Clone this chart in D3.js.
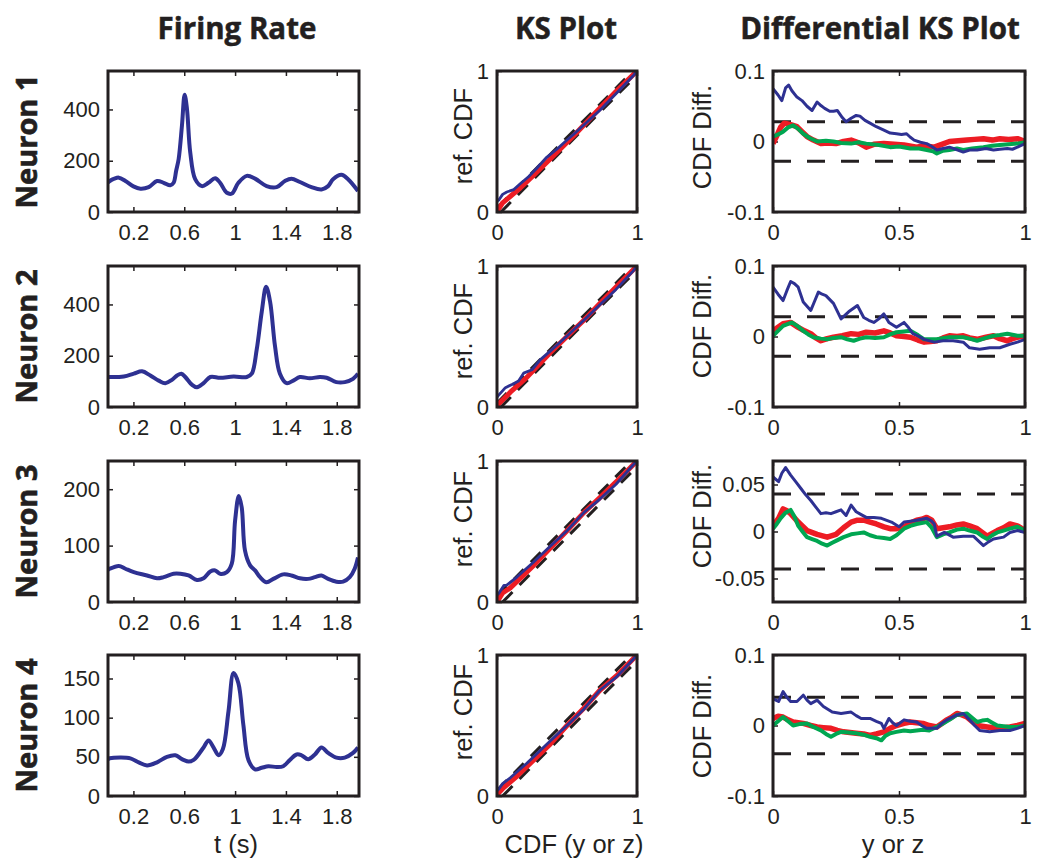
<!DOCTYPE html>
<html>
<head>
<meta charset="utf-8">
<script src="https://cdn.jsdelivr.net/npm/d3@7"></script>
<style>
  html, body { margin: 0; padding: 0; background: #fff; }
  svg { display: block; }
</style>
</head>
<body>
<script>
// ---------------- DATA ----------------
const columnTitles = ["Firing Rate", "KS Plot", "Differential KS Plot"];
const neuronLabels = ["Neuron 1", "Neuron 2", "Neuron 3", "Neuron 4"];
const rateXLabel = "t (s)";
const ksXLabel = "CDF (y or z)";
const ksYLabel = "ref. CDF";
const diffXLabel = "y or z";
const diffYLabel = "CDF Diff.";

const rateXTicks = [0.2, 0.6, 1, 1.4, 1.8];
const rateXMax = 1.975;
const rateYMax = [550, 550, 250, 180];
const rateYTicks = [[0, 200, 400], [0, 200, 400], [0, 100, 200], [0, 50, 100, 150]];
const ksTicks = [0, 1];
const diffXTicks = [0, 0.5, 1];
const diffYLim = [0.1, 0.1, 0.075, 0.1];
const diffYTicks = [[-0.1, 0, 0.1], [-0.1, 0, 0.1], [-0.05, 0, 0.05], [-0.1, 0, 0.1]];
const ksBound = [0.028, 0.028, 0.04, 0.04];

// firing rate [t (s), rate]
const rate1 = [[0,115],[.014,121],[.05,130],[.085,134],[.137,121],[.2,100],[.255,91],[.32,97],[.386,121],[.438,114],[.49,104],[.516,114],[.536,160],[.556,207],[.582,338],[.603,457],[.621,404],[.647,233],[.686,128],[.739,101],[.79,114],[.843,132],[.882,114],[.935,75],[.975,72],[1.026,114],[1.092,141],[1.157,130],[1.248,101],[1.327,97],[1.392,121],[1.444,130],[1.51,117],[1.601,97],[1.68,88],[1.732,101],[1.771,128],[1.837,145],[1.889,128],[1.967,82]];
const rate2 = [[0,117],[.124,119],[.203,130],[.268,139],[.333,123],[.399,103],[.451,93],[.503,106],[.543,123],[.577,130],[.608,117],[.66,87],[.7,77],[.752,93],[.805,117],[.883,114],[.988,119],[1.092,117],[1.131,130],[1.17,224],[1.21,372],[1.244,469],[1.275,412],[1.314,238],[1.353,130],[1.405,93],[1.458,103],[1.51,117],[1.588,112],[1.667,117],[1.72,114],[1.797,97],[1.863,97],[1.928,110],[1.967,130]];
const rate3 = [[0,57],[.014,59],[.085,64],[.137,59],[.203,53],[.307,47],[.386,42],[.438,44],[.516,50],[.569,50],[.634,47],[.7,39],[.752,42],[.805,54],[.843,56],[.882,50],[.935,53],[.974,68],[1.0,144],[1.029,188],[1.052,168],[1.078,91],[1.118,65],[1.157,56],[1.196,44],[1.248,35],[1.301,41],[1.379,49],[1.444,47],[1.51,42],[1.575,41],[1.628,44],[1.68,47],[1.732,41],[1.797,36],[1.85,36],[1.902,44],[1.941,59],[1.967,79]];
const rate4 = [[0,47],[.014,48],[.098,49],[.176,48],[.242,43],[.307,39],[.386,43],[.464,50],[.53,52],[.582,47],[.634,44],[.674,46],[.752,62],[.791,71],[.83,62],[.87,52],[.904,60],[.948,108],[.988,157],[1.026,144],[1.065,91],[1.105,46],[1.157,34],[1.209,36],[1.262,38],[1.327,37],[1.379,38],[1.431,46],[1.484,53],[1.523,52],[1.575,47],[1.628,53],[1.68,62],[1.732,55],[1.797,49],[1.863,49],[1.928,55],[1.967,62]];

// KS plots [CDF, ref. CDF]
const ksBlue1 = [[0,0.078],[0.012,0.083],[0.04,0.125],[0.07,0.142],[0.12,0.159],[0.166,0.2],[0.225,0.25],[0.284,0.31],[0.355,0.388],[0.427,0.445],[0.498,0.509],[0.56,0.562],[0.616,0.614],[0.735,0.722],[0.853,0.842],[0.976,0.97],[1,1]];
const ksRed1 = [[0,0],[0.005,0.012],[0.04,0.065],[0.07,0.09],[0.166,0.17],[0.26,0.26],[0.4,0.395],[0.55,0.542],[0.7,0.7],[0.85,0.854],[1,1]];
const ksBlue2 = [[0,0.07],[0.012,0.084],[0.06,0.137],[0.107,0.16],[0.154,0.185],[0.19,0.24],[0.25,0.264],[0.31,0.336],[0.38,0.396],[0.5,0.504],[0.62,0.615],[0.735,0.726],[0.85,0.834],[0.97,0.962],[1,1]];
const ksRed2 = [[0,0.005],[0.007,0.017],[0.095,0.105],[0.213,0.21],[0.38,0.385],[0.5,0.5],[0.62,0.615],[0.735,0.734],[0.87,0.87],[1,1]];
const ksBlue3 = [[0,0.05],[0.012,0.06],[0.05,0.118],[0.07,0.12],[0.14,0.175],[0.26,0.282],[0.38,0.395],[0.5,0.505],[0.62,0.634],[0.735,0.73],[0.85,0.835],[0.97,0.97],[1,1]];
const ksRed3 = [[0,0.003],[0.007,0.012],[0.04,0.064],[0.095,0.1],[0.26,0.258],[0.5,0.505],[0.62,0.634],[0.735,0.74],[0.87,0.87],[1,1]];
const ksBlue4 = [[0,0.038],[0.012,0.048],[0.04,0.088],[0.095,0.129],[0.213,0.232],[0.38,0.39],[0.5,0.5],[0.62,0.616],[0.735,0.75],[0.85,0.841],[0.97,0.966],[1,1]];
const ksRed4 = [[0,0.01],[0.04,0.052],[0.14,0.138],[0.38,0.368],[0.5,0.5],[0.62,0.622],[0.735,0.75],[0.855,0.853],[1,1]];

// Differential KS plots [y or z, CDF diff]
const diffBlue1 = [[0,.075],[.02,.066],[.035,.058],[.05,.076],[.062,.08],[.075,.072],[.095,.063],[.115,.058],[.135,.05],[.155,.044],[.175,.056],[.19,.051],[.205,.047],[.225,.043],[.24,.043],[.255,.044],[.275,.034],[.29,.028],[.31,.033],[.33,.037],[.345,.036],[.365,.03],[.385,.026],[.41,.021],[.44,.016],[.465,.012],[.49,.011],[.51,.01],[.53,.011],[.545,.006],[.56,.002],[.585,-.001],[.61,-.003],[.63,-.007],[.65,-.012],[.675,-.01],[.70,-.008],[.725,-.011],[.755,-.015],[.78,-.012],[.81,-.012],[.845,-.01],[.875,-.012],[.9,-.011],[.93,-.01],[.95,-.011],[.97,-.008],[1,-.003]];
const diffRed1 = [[0,-.003],[.015,.008],[.03,.02],[.045,.026],[.07,.024],[.095,.021],[.115,.014],[.135,.007],[.16,.002],[.19,-.003],[.22,-.002],[.25,-.003],[.28,0],[.31,.002],[.34,-.002],[.37,-.008],[.4,-.004],[.44,-.003],[.48,-.004],[.52,-.005],[.57,-.008],[.6,-.006],[.64,-.008],[.67,-.004],[.70,0],[.735,.001],[.77,.002],[.8,.003],[.835,.004],[.87,.002],[.9,.004],[.935,.003],[.97,.004],[1,0]];
const diffGreen1 = [[0,.007],[.02,.01],[.04,.014],[.06,.02],[.08,.023],[.1,.018],[.12,.011],[.145,.005],[.175,0],[.21,.001],[.24,0],[.27,-.002],[.31,-.003],[.34,-.001],[.37,-.003],[.42,-.005],[.465,-.008],[.5,-.007],[.545,-.01],[.58,-.01],[.61,-.012],[.635,-.014],[.65,-.017],[.675,-.013],[.70,-.012],[.73,-.01],[.755,-.012],[.79,-.01],[.835,-.008],[.87,-.006],[.9,-.005],[.935,-.004],[.97,-.003],[1,-.001]];

const diffBlue2 = [[0,.07],[.02,.06],[.04,.051],[.055,.065],[.07,.078],[.085,.075],[.1,.07],[.12,.049],[.15,.037],[.165,.05],[.18,.063],[.195,.06],[.21,.058],[.24,.047],[.27,.025],[.285,.03],[.3,.035],[.335,.044],[.36,.027],[.38,.023],[.4,.02],[.42,.025],[.44,.032],[.46,.02],[.49,.013],[.52,.02],[.535,.014],[.555,.004],[.58,0],[.6,-.004],[.64,-.008],[.675,-.006],[.715,-.006],[.755,-.008],[.78,-.016],[.82,-.018],[.86,-.016],[.9,-.016],[.94,-.011],[.97,-.008],[1,-.004]];
const diffRed2 = [[0,.008],[.02,.013],[.04,.018],[.07,.02],[.1,.013],[.125,.008],[.15,.004],[.17,-.002],[.19,-.006],[.215,-.003],[.24,-.001],[.275,.001],[.31,.004],[.34,.003],[.37,.006],[.405,.005],[.44,.008],[.465,.005],[.49,.001],[.52,0],[.545,-.001],[.575,-.005],[.6,-.008],[.625,-.007],[.65,-.006],[.675,-.002],[.70,.001],[.73,0],[.755,.001],[.78,-.002],[.81,-.004],[.845,-.001],[.875,.001],[.9,-.003],[.93,-.006],[.95,-.003],[.97,-.001],[1,.001]];
const diffGreen2 = [[0,.001],[.02,.008],[.04,.015],[.075,.02],[.1,.014],[.12,.008],[.14,.003],[.16,-.001],[.19,-.003],[.215,-.004],[.24,-.002],[.27,-.001],[.295,-.004],[.32,-.006],[.345,-.003],[.37,-.001],[.405,-.002],[.44,-.001],[.465,.003],[.49,.006],[.52,.007],[.545,.008],[.575,.002],[.6,-.004],[.65,-.004],[.7,-.001],[.755,-.001],[.78,-.003],[.81,-.006],[.845,-.002],[.875,.001],[.9,.002],[.93,.004],[.97,.001],[1,.001]];

const diffBlue3 = [[0,.058],[.022,.053],[.035,.062],[.05,.068],[.07,.06],[.09,.053],[.11,.046],[.13,.039],[.15,.033],[.17,.026],[.19,.019],[.21,.02],[.23,.019],[.25,.021],[.27,.023],[.29,.017],[.31,.028],[.33,.021],[.35,.018],[.37,.015],[.4,.015],[.43,.014],[.47,.01],[.5,.005],[.52,.01],[.545,.011],[.57,.012],[.59,.013],[.61,.014],[.63,.011],[.64,.008],[.65,-.005],[.68,-.001],[.715,-.006],[.755,-.005],[.795,-.005],[.815,-.01],[.835,-.015],[.855,-.011],[.875,-.008],[.915,-.006],[.94,-.001],[.97,.001],[1,-.001]];
const diffRed3 = [[0,.006],[.022,.014],[.04,.024],[.055,.022],[.07,.019],[.1,.01],[.135,.001],[.175,-.003],[.215,-.006],[.25,-.003],[.28,.004],[.31,.01],[.335,.012],[.36,.012],[.385,.01],[.41,.008],[.44,.005],[.465,.003],[.49,.003],[.52,.005],[.545,.009],[.57,.012],[.59,.013],[.61,.015],[.63,.012],[.65,.003],[.675,.004],[.70,.005],[.73,.007],[.755,.008],[.78,.006],[.81,.003],[.83,-.001],[.85,-.005],[.87,-.002],[.89,.001],[.915,.004],[.94,.008],[.97,.006],[1,.001]];
const diffGreen3 = [[0,.003],[.015,.008],[.03,.014],[.05,.02],[.07,.023],[.085,.016],[.1,.006],[.12,-.001],[.135,-.006],[.155,-.008],[.175,-.01],[.195,-.013],[.215,-.015],[.235,-.012],[.25,-.01],[.28,-.006],[.31,-.003],[.335,-.002],[.36,-.001],[.385,-.004],[.41,-.006],[.44,-.007],[.465,-.008],[.49,-.004],[.52,.003],[.545,.006],[.57,.008],[.59,.009],[.61,.01],[.63,.004],[.65,-.006],[.675,-.003],[.7,-.001],[.73,.002],[.755,.003],[.78,.001],[.81,-.001],[.83,-.005],[.85,-.008],[.87,-.004],[.89,-.001],[.915,.001],[.94,.003],[.97,.005],[1,.001]];

const diffBlue4 = [[0,.038],[.022,.034],[.04,.048],[.055,.04],[.07,.034],[.095,.034],[.12,.043],[.135,.036],[.15,.031],[.175,.036],[.2,.027],[.235,.019],[.27,.017],[.31,.019],[.33,.014],[.35,.01],[.385,.01],[.41,.006],[.43,.003],[.44,-.004],[.46,.01],[.475,.004],[.49,0],[.52,.008],[.545,.006],[.57,.005],[.59,0],[.61,-.004],[.65,-.004],[.67,.003],[.69,.008],[.73,.015],[.755,.017],[.78,.008],[.8,0],[.82,-.007],[.86,-.009],[.9,-.007],[.94,-.007],[.97,-.004],[1,0]];
const diffRed4 = [[0,.01],[.02,.013],[.04,.012],[.06,.008],[.08,.005],[.1,.004],[.12,.003],[.15,0],[.175,-.002],[.2,-.003],[.23,-.004],[.255,-.007],[.28,-.009],[.305,-.01],[.33,-.011],[.36,-.012],[.385,-.014],[.41,-.012],[.44,-.009],[.465,-.004],[.49,0],[.52,.003],[.545,.005],[.57,.004],[.595,.003],[.62,0],[.65,-.002],[.67,.003],[.69,.008],[.71,.012],[.73,.017],[.75,.015],[.77,.012],[.79,.006],[.81,0],[.85,-.002],[.89,-.004],[.915,-.003],[.94,-.002],[.97,0],[1,.003]];
const diffGreen4 = [[0,0],[.02,.006],[.04,.012],[.06,.006],[.08,0],[.105,.002],[.135,.003],[.16,-.002],[.19,-.007],[.21,-.012],[.23,-.016],[.25,-.012],[.27,-.009],[.3,-.01],[.33,-.011],[.36,-.013],[.385,-.016],[.41,-.018],[.43,-.021],[.445,-.015],[.465,-.011],[.49,-.009],[.52,-.007],[.545,-.008],[.57,-.007],[.595,-.006],[.62,-.007],[.65,-.002],[.675,.003],[.7,.008],[.73,.015],[.75,.016],[.77,.017],[.79,.011],[.81,.005],[.83,.007],[.85,.008],[.87,.004],[.89,0],[.915,-.001],[.94,-.002],[.97,-.002],[1,0]];

const rates = [rate1, rate2, rate3, rate4];
const ksBlue = [ksBlue1, ksBlue2, ksBlue3, ksBlue4];
const ksRed = [ksRed1, ksRed2, ksRed3, ksRed4];
const diffBlue = [diffBlue1, diffBlue2, diffBlue3, diffBlue4];
const diffRed = [diffRed1, diffRed2, diffRed3, diffRed4];
const diffGreen = [diffGreen1, diffGreen2, diffGreen3, diffGreen4];

// ---------------- LAYOUT / STYLE ----------------
const W = 1050, H = 867;
const BLUE = "#2e3192", RED = "#ed1c24", GREEN = "#00a651", INK = "#231f20";
const rowTop = [71, 266, 461, 655];
const rowH = 141;
const colRate = [108, 359], colKS = [497, 637], colDiff = [773, 1025];
const tickFont = "'Liberation Sans', Arial, Helvetica, sans-serif";
const boldFont = "'Open Sans', 'DejaVu Sans', sans-serif";
const TICK_FS = 22, LABEL_FS = 25.5;
const ksLabelCY = [136, 331, 519, 712];
const diffLabelCY = [137, 326, 516, 726];

const svg = d3.select("body").append("svg").attr("width", W).attr("height", H);
const defs = svg.append("defs");

// column titles
const titleX = [237, 566, 880];
columnTitles.forEach((t, i) => {
  svg.append("text").attr("x", titleX[i]).attr("y", 39)
    .attr("text-anchor", "middle").attr("font-family", boldFont)
    .attr("font-weight", 700).attr("font-size", 29.5).attr("fill", INK)
    .attr("stroke", INK).attr("stroke-width", 0.5).text(t);
});

function axes(g, x, y, xt, yt, fmtX, fmtY) {
  const style = sel => {
    sel.select(".domain").remove();
    sel.selectAll(".tick line").attr("stroke", INK).attr("stroke-width", 1.5);
    sel.selectAll(".tick text").attr("font-family", tickFont).attr("font-size", TICK_FS).attr("fill", INK);
    sel.attr("font-family", null).attr("font-size", null);
  };
  const [y0, y1] = y.range(); // bottom, top
  const [x0, x1] = x.range();
  g.append("g").attr("transform", `translate(0,${y0})`)
    .call(d3.axisBottom(x).tickValues(xt).tickSize(-5).tickPadding(12).tickFormat(fmtX)).call(style);
  g.append("g").attr("transform", `translate(0,${y1})`)
    .call(d3.axisTop(x).tickValues(xt).tickSize(-5).tickFormat("")).call(style);
  g.append("g").attr("transform", `translate(${x0},0)`)
    .call(d3.axisLeft(y).tickValues(yt).tickSize(-5).tickPadding(8).tickFormat(fmtY)).call(style);
  g.append("g").attr("transform", `translate(${x1},0)`)
    .call(d3.axisRight(y).tickValues(yt).tickSize(-5).tickFormat("")).call(style);
}

function frame(g, x, y, id) {
  const [x0, x1] = x.range();
  const [yb, yt] = y.range();
  defs.append("clipPath").attr("id", id).append("rect")
    .attr("x", x0).attr("y", yt).attr("width", x1 - x0).attr("height", yb - yt);
  return () => g.append("rect").attr("x", x0).attr("y", yt).attr("width", x1 - x0).attr("height", yb - yt)
    .attr("fill", "none").attr("stroke", INK).attr("stroke-width", 3);
}

const fmt = d => String(d);

for (let r = 0; r < 4; r++) {
  const top = rowTop[r], bot = top + rowH;

  // row label
  svg.append("text").attr("transform", `translate(37,${(top + bot) / 2}) rotate(-90)`)
    .attr("text-anchor", "middle").attr("font-family", boldFont).attr("font-weight", 700)
    .attr("font-size", 29).attr("fill", INK).attr("stroke", INK).attr("stroke-width", 0.6)
    .text(neuronLabels[r]);

  // ---- Firing rate
  {
    const g = svg.append("g");
    const x = d3.scaleLinear().domain([0, rateXMax]).range(colRate);
    const y = d3.scaleLinear().domain([0, rateYMax[r]]).range([bot, top]);
    const drawFrame = frame(g, x, y, `clipR${r}`);
    axes(g, x, y, rateXTicks, rateYTicks[r], fmt, fmt);
    g.append("path").datum(rates[r]).attr("clip-path", `url(#clipR${r})`)
      .attr("d", d3.line().x(d => x(d[0])).y(d => y(d[1])).curve(d3.curveCatmullRom.alpha(0.5)))
      .attr("fill", "none").attr("stroke", BLUE).attr("stroke-width", 4).attr("stroke-linejoin", "round");
    drawFrame();
  }

  // ---- KS plot
  {
    const g = svg.append("g");
    const x = d3.scaleLinear().domain([0, 1]).range(colKS);
    const y = d3.scaleLinear().domain([0, 1]).range([bot, top]);
    const drawFrame = frame(g, x, y, `clipK${r}`);
    axes(g, x, y, ksTicks, ksTicks, fmt, fmt);
    const c = ksBound[r];
    const line = d3.line().x(d => x(d[0])).y(d => y(d[1]));
    [[[0, c], [1 - c, 1]], [[c, 0], [1, 1 - c]]].forEach(seg => {
      g.append("path").datum(seg).attr("clip-path", `url(#clipK${r})`).attr("d", line)
        .attr("fill", "none").attr("stroke", INK).attr("stroke-width", 3).attr("stroke-dasharray", "14,10");
    });
    g.append("path").datum(ksRed[r]).attr("clip-path", `url(#clipK${r})`).attr("d", line)
      .attr("fill", "none").attr("stroke", RED).attr("stroke-width", 5).attr("stroke-linejoin", "round");
    g.append("path").datum(ksBlue[r]).attr("clip-path", `url(#clipK${r})`).attr("d", line)
      .attr("fill", "none").attr("stroke", BLUE).attr("stroke-width", 2.8).attr("stroke-linejoin", "round");
    drawFrame();
    svg.append("text").attr("transform", `translate(472,${ksLabelCY[r]}) rotate(-90)`)
      .attr("text-anchor", "middle").attr("font-family", tickFont).attr("font-size", LABEL_FS)
      .attr("fill", INK).text(ksYLabel);
  }

  // ---- Differential KS plot
  {
    const g = svg.append("g");
    const x = d3.scaleLinear().domain([0, 1]).range(colDiff);
    const y = d3.scaleLinear().domain([-diffYLim[r], diffYLim[r]]).range([bot, top]);
    const drawFrame = frame(g, x, y, `clipD${r}`);
    axes(g, x, y, diffXTicks, diffYTicks[r], fmt, fmt);
    const line = d3.line().x(d => x(d[0])).y(d => y(d[1]));
    const c = ksBound[r];
    [c, -c].forEach(v => {
      g.append("path").datum([[0, v], [1, v]]).attr("d", line)
        .attr("fill", "none").attr("stroke", INK).attr("stroke-width", 3).attr("stroke-dasharray", "18,16");
    });
    g.append("path").datum(diffRed[r]).attr("clip-path", `url(#clipD${r})`).attr("d", line)
      .attr("fill", "none").attr("stroke", RED).attr("stroke-width", 5.5).attr("stroke-linejoin", "round");
    g.append("path").datum(diffGreen[r]).attr("clip-path", `url(#clipD${r})`).attr("d", line)
      .attr("fill", "none").attr("stroke", GREEN).attr("stroke-width", 4).attr("stroke-linejoin", "round");
    g.append("path").datum(diffBlue[r]).attr("clip-path", `url(#clipD${r})`).attr("d", line)
      .attr("fill", "none").attr("stroke", BLUE).attr("stroke-width", 3).attr("stroke-linejoin", "round");
    drawFrame();
    svg.append("text").attr("transform", `translate(711,${diffLabelCY[r]}) rotate(-90)`)
      .attr("text-anchor", "middle").attr("font-family", tickFont).attr("font-size", LABEL_FS)
      .attr("fill", INK).text(diffYLabel);
  }
}

// bottom axis labels
[[rateXLabel, 236], [ksXLabel, 574], [diffXLabel, 893]].forEach(([t, cx]) => {
  svg.append("text").attr("x", cx).attr("y", 853).attr("text-anchor", "middle")
    .attr("font-family", tickFont).attr("font-size", LABEL_FS).attr("fill", INK).text(t);
});
</script>
</body>
</html>
